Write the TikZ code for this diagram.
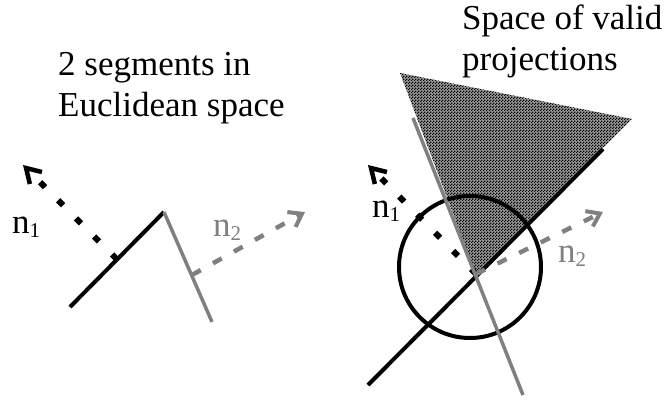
\documentclass[tikz,border=0pt]{standalone}
\usepackage{fontspec}
\setmainfont{Liberation Serif}
\usetikzlibrary{arrows.meta,patterns.meta}
\tikzdeclarepattern{
  name=checkdots,
  type=uncolored,
  bounding box={(0pt,0pt) and (3pt,3pt)},
  tile size={(3pt,3pt)},
  code={\fill (0pt,0pt) rectangle (1.5pt,1.5pt); \fill (1.5pt,1.5pt) rectangle (3pt,3pt);}
}
\newcommand\nsub[1]{n\raisebox{-4.5pt}{\fontsize{21}{21}\selectfont #1}}
\begin{document}
\begin{tikzpicture}[x=1pt,y=-1pt,
  lbl/.style={font=\fontsize{35}{42}\selectfont, inner sep=0pt, anchor=base west},
  seg/.style={line width=4pt, black},
  gseg/.style={line width=3.5pt, gray},
  nblk/.style={black, line width=6pt, dash pattern=on 7pt off 18.5pt,
    -{Straight Barb[length=14pt,width=17pt,line width=4.5pt]}},
  ngray/.style={gray, line width=4.5pt, dash pattern=on 10pt off 14pt,
    -{Straight Barb[length=12pt,width=17pt,line width=4pt]}},
  validbg/.style={fill=black!40},
  valid/.style={pattern=checkdots, pattern color=black}
]
\useasboundingbox (0,0) rectangle (665,402);

% ---------- titles ----------
\node[lbl] (t1) at (58,75) {2 segments in};
\node[lbl] (t2) at (58,116) {Euclidean space};
\node[lbl] (t3) at (462,29) {Space of valid};
\node[lbl] (t4) at (462,70) {projections};

% ---------- left figure ----------
\coordinate (A) at (70,307);
\coordinate (B) at (164,212);
\coordinate (C) at (212,322);
\coordinate (M1) at (117,259.5);
\coordinate (T1) at (23,165);
\coordinate (G1) at (192,275);
\coordinate (T2) at (305,212);
\draw[seg] (A) -- (B);
\draw[gseg] (B) -- (C);
\draw[nblk] (M1) -- (T1);
\draw[ngray] (G1) -- (T2);
\node[lbl] (l1) at (12,233) {\nsub{1}};
\node[lbl, text=gray] (l2) at (213,236) {\nsub{2}};

% ---------- right figure ----------
\coordinate (P1) at (368,385);
\coordinate (P2) at (603,149);
\coordinate (Q1) at (413,118);
\coordinate (Q2) at (523,395);
\coordinate (X) at (476,274);
\coordinate (V1) at (400,73);
\coordinate (V2) at (632,119);
\coordinate (O) at (470,267);
\coordinate (R1) at (368,165);
\coordinate (R2) at (603,212);
\fill[validbg] (X) -- (V1) -- (V2) -- cycle;
\fill[valid] (X) -- (V1) -- (V2) -- cycle;
\draw[line width=4pt] (O) circle[radius=71pt];
\draw[seg] (P1) -- (P2);
\draw[nblk] (X) -- (R1);
\draw[ngray] (X) -- (R2);
\draw[gseg] (Q1) -- (Q2);
\node[lbl] (r1) at (372,217) {\nsub{1}};
\node[lbl, text=gray] (r2) at (558,262) {\nsub{2}};
\end{tikzpicture}
\end{document}
